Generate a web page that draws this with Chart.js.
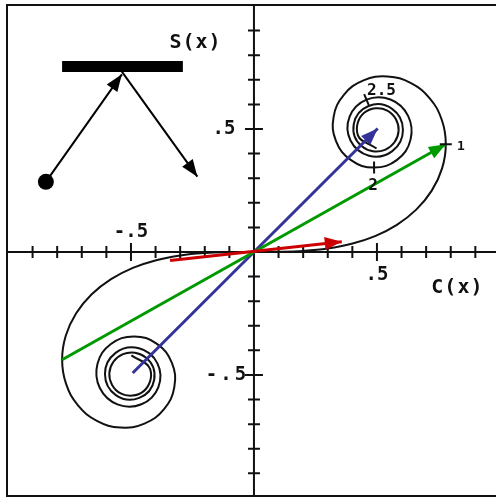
<!DOCTYPE html>
<html>
<head>
<meta charset="utf-8">
<script src="https://cdn.jsdelivr.net/npm/chart.js@4.4.1/dist/chart.umd.min.js"></script>
<style>
  html, body { margin: 0; padding: 0; background: #fff; }
  canvas { display: block; }
</style>
</head>
<body>
<canvas id="cornu" width="496" height="498"></canvas>
<script>
// Cornu spiral, parameter t from -4 to 4 in steps of 0.1
const paramT = [
  -4.0, -3.9, -3.8, -3.7, -3.6, -3.5, -3.4, -3.3, -3.2, -3.1,
  -3.0, -2.9, -2.8, -2.7, -2.6, -2.5, -2.4, -2.3, -2.2, -2.1,
  -2.0, -1.9, -1.8, -1.7, -1.6, -1.5, -1.4, -1.3, -1.2, -1.1,
  -1.0, -0.9, -0.8, -0.7, -0.6, -0.5, -0.4, -0.3, -0.2, -0.1,
  0.0,
  0.1, 0.2, 0.3, 0.4, 0.5, 0.6, 0.7, 0.8, 0.9, 1.0,
  1.1, 1.2, 1.3, 1.4, 1.5, 1.6, 1.7, 1.8, 1.9, 2.0,
  2.1, 2.2, 2.3, 2.4, 2.5, 2.6, 2.7, 2.8, 2.9, 3.0,
  3.1, 3.2, 3.3, 3.4, 3.5, 3.6, 3.7, 3.8, 3.9, 4.0
];
const cornuC = [
  -0.4984, -0.4223, -0.4481, -0.5420, -0.5880, -0.5326, -0.4385, -0.4057, -0.4663, -0.5616,
  -0.6057, -0.5624, -0.4675, -0.3925, -0.3889, -0.4574, -0.5550, -0.6266, -0.6363, -0.5816,
  -0.4883, -0.3945, -0.3336, -0.3238, -0.3655, -0.4453, -0.5431, -0.6386, -0.7154, -0.7638,
  -0.7799, -0.7648, -0.7228, -0.6597, -0.5811, -0.4923, -0.3975, -0.2994, -0.1999, -0.0999,
  0.0,
  0.0999, 0.1999, 0.2994, 0.3975, 0.4923, 0.5811, 0.6597, 0.7228, 0.7648, 0.7799,
  0.7638, 0.7154, 0.6386, 0.5431, 0.4453, 0.3655, 0.3238, 0.3336, 0.3945, 0.4883,
  0.5816, 0.6363, 0.6266, 0.5550, 0.4574, 0.3889, 0.3925, 0.4675, 0.5624, 0.6057,
  0.5616, 0.4663, 0.4057, 0.4385, 0.5326, 0.5880, 0.5420, 0.4481, 0.4223, 0.4984
];
const cornuS = [
  -0.4205, -0.4752, -0.5656, -0.5750, -0.4923, -0.4153, -0.4297, -0.5193, -0.5933, -0.5818,
  -0.4963, -0.4101, -0.3915, -0.4529, -0.5500, -0.6192, -0.6197, -0.5532, -0.4557, -0.3743,
  -0.3434, -0.3733, -0.4509, -0.5492, -0.6389, -0.6975, -0.7135, -0.6863, -0.6234, -0.5365,
  -0.4383, -0.3398, -0.2493, -0.1721, -0.1105, -0.0647, -0.0334, -0.0141, -0.0042, -0.0005,
  0.0,
  0.0005, 0.0042, 0.0141, 0.0334, 0.0647, 0.1105, 0.1721, 0.2493, 0.3398, 0.4383,
  0.5365, 0.6234, 0.6863, 0.7135, 0.6975, 0.6389, 0.5492, 0.4509, 0.3733, 0.3434,
  0.3743, 0.4557, 0.5532, 0.6197, 0.6192, 0.5500, 0.4529, 0.3915, 0.4101, 0.4963,
  0.5818, 0.5933, 0.5193, 0.4297, 0.4153, 0.4923, 0.5750, 0.5656, 0.4752, 0.4205
];

// parameter values marked on the curve
const markedT = [1, 2, 2.5];
const markedLabels = ["1", "2", "2.5"];

// chords drawn as arrows: [C, S] start and end
const redChord = [[-0.341, -0.035], [0.357, 0.042]];
const greenChord = [[-0.78, -0.438], [0.78, 0.438]];
const blueChord = [[-0.493, -0.492], [0.503, 0.502]];

// small reflection sketch in the corner
const mirrorBar = [[-0.780, 0.754], [-0.289, 0.754]];
const rayIn = [[-0.846, 0.285], [-0.537, 0.722]];
const rayOut = [[-0.537, 0.733], [-0.230, 0.306]];
const sourceDot = [[-0.846, 0.285]];

// axis ticks
const axisTicks = [-0.9, -0.8, -0.7, -0.6, -0.5, -0.4, -0.3, -0.2, -0.1,
                   0.1, 0.2, 0.3, 0.4, 0.5, 0.6, 0.7, 0.8, 0.9];
const majorTicks = [-0.5, 0.5];
const tickText = { "-0.5": "-.5", "0.5": ".5" };

const INK = "#111";
const FONT = '"DejaVu Sans Mono", "Liberation Mono", monospace';

function toPoints(pairs) {
  return pairs.map(p => ({ x: p[0], y: p[1] }));
}

const spiralPoints = paramT.map((t, i) => ({ x: cornuC[i], y: cornuS[i] }));

function segment(pairs, color, width, head) {
  return {
    data: toPoints(pairs),
    showLine: true,
    borderColor: color,
    backgroundColor: color,
    borderWidth: width,
    borderCapStyle: "butt",
    pointRadius: 0,
    tension: 0,
    order: 1,
    arrowHead: head
  };
}

function drawHead(ctx, a, b, len, half, color) {
  const ang = Math.atan2(b.y - a.y, b.x - a.x);
  const cx = Math.cos(ang), sy = Math.sin(ang);
  ctx.save();
  ctx.fillStyle = color;
  ctx.beginPath();
  ctx.moveTo(b.x, b.y);
  ctx.lineTo(b.x - len * cx - half * sy, b.y - len * sy + half * cx);
  ctx.lineTo(b.x - len * cx + half * sy, b.y - len * sy - half * cx);
  ctx.closePath();
  ctx.fill();
  ctx.restore();
}

function label(ctx, text, x, y, size, spacing) {
  ctx.save();
  ctx.font = "bold " + size + "px " + FONT;
  ctx.letterSpacing = spacing + "px";
  ctx.fillStyle = INK;
  ctx.textAlign = "center";
  ctx.textBaseline = "middle";
  ctx.fillText(text, x + spacing / 2, y);
  ctx.restore();
}

// frame, axes with crossing ticks
const axesPlugin = {
  id: "crossAxes",
  beforeDatasetsDraw(chart) {
    const { ctx, chartArea: area, scales } = chart;
    const x0 = scales.x.getPixelForValue(0);
    const y0 = scales.y.getPixelForValue(0);
    ctx.save();
    ctx.strokeStyle = INK;
    ctx.lineWidth = 2;
    ctx.beginPath();
    ctx.moveTo(area.right + 2, area.top);
    ctx.lineTo(area.left, area.top);
    ctx.lineTo(area.left, area.bottom);
    ctx.lineTo(area.right + 2, area.bottom);
    ctx.moveTo(area.left, y0);
    ctx.lineTo(area.right + 2, y0);
    ctx.moveTo(x0, area.top);
    ctx.lineTo(x0, area.bottom);
    axisTicks.forEach(v => {
      const h = majorTicks.includes(v) ? 9 : 6;
      const px = scales.x.getPixelForValue(v);
      const py = scales.y.getPixelForValue(v);
      ctx.moveTo(px, y0 - h);
      ctx.lineTo(px, y0 + h);
      ctx.moveTo(x0 - h, py);
      ctx.lineTo(x0 + h, py);
    });
    ctx.stroke();
    ctx.restore();

    majorTicks.forEach(v => {
      const px = scales.x.getPixelForValue(v);
      const py = scales.y.getPixelForValue(v);
      const txt = tickText[String(v)];
      if (v > 0) {
        label(ctx, txt, px, y0 + 23, 19, 0);
        label(ctx, txt, x0 - 30, py, 19, 0);
      } else {
        label(ctx, txt, px, y0 - 20, 19, 0);
        label(ctx, txt, x0 - 28, py, 19, 3);
      }
    });
    label(ctx, "S(x)", x0 - 59, scales.y.getPixelForValue(0.852), 20, 1);
    label(ctx, "C(x)", scales.x.getPixelForValue(0.825), y0 + 36, 20, 1);
  },
  afterDatasetsDraw(chart) {
    const { ctx } = chart;
    chart.data.datasets.forEach((ds, i) => {
      if (!ds.arrowHead) return;
      const pts = chart.getDatasetMeta(i).data;
      const a = pts[pts.length - 2], b = pts[pts.length - 1];
      drawHead(ctx, a, b, ds.arrowHead[0], ds.arrowHead[1], ds.borderColor);
    });

    // parameter marks across the spiral
    const pts = chart.getDatasetMeta(chart.data.datasets.length - 1).data;
    const offsets = [[15, 2], [-1, 18], [15, -9]];
    const sizes = [13, 16, 16];
    markedT.forEach((t, k) => {
      const i = paramT.findIndex(v => Math.abs(v - t) < 1e-6);
      const p = pts[i], prev = pts[i - 1], next = pts[i + 1];
      const ang = Math.atan2(next.y - prev.y, next.x - prev.x);
      const nx = -Math.sin(ang) * 6, ny = Math.cos(ang) * 6;
      ctx.save();
      ctx.strokeStyle = INK;
      ctx.lineWidth = 2;
      ctx.beginPath();
      ctx.moveTo(p.x - nx, p.y - ny);
      ctx.lineTo(p.x + nx, p.y + ny);
      ctx.stroke();
      ctx.restore();
      label(ctx, markedLabels[k], p.x + offsets[k][0], p.y + offsets[k][1], sizes[k], 0);
    });
  }
};

new Chart(document.getElementById("cornu"), {
  type: "scatter",
  data: {
    datasets: [
      segment(redChord, "#cc0000", 3, [17, 6.5]),
      segment(greenChord, "#009900", 3, [17, 6.5]),
      segment(blueChord, "#333399", 3, [17, 6.5]),
      segment(rayIn, "#000", 2, [17, 6.5]),
      segment(rayOut, "#000", 2, [17, 6.5]),
      segment(mirrorBar, "#000", 11, null),
      {
        data: toPoints(sourceDot),
        pointRadius: 8,
        pointBackgroundColor: "#000",
        pointBorderWidth: 0,
        order: 1
      },
      {
        data: spiralPoints,
        showLine: true,
        borderColor: INK,
        borderWidth: 2,
        pointRadius: 0,
        tension: 0.42,
        order: 2
      }
    ]
  },
  options: {
    responsive: false,
    animation: false,
    events: [],
    layout: { autoPadding: false, padding: { left: 7, top: 5, right: 0, bottom: 2 } },
    scales: {
      x: { type: "linear", min: -1.004, max: 0.984, display: false },
      y: { type: "linear", min: -0.992, max: 1.004, display: false }
    },
    plugins: {
      legend: { display: false },
      tooltip: { enabled: false }
    }
  },
  plugins: [axesPlugin]
});
</script>
</body>
</html>
